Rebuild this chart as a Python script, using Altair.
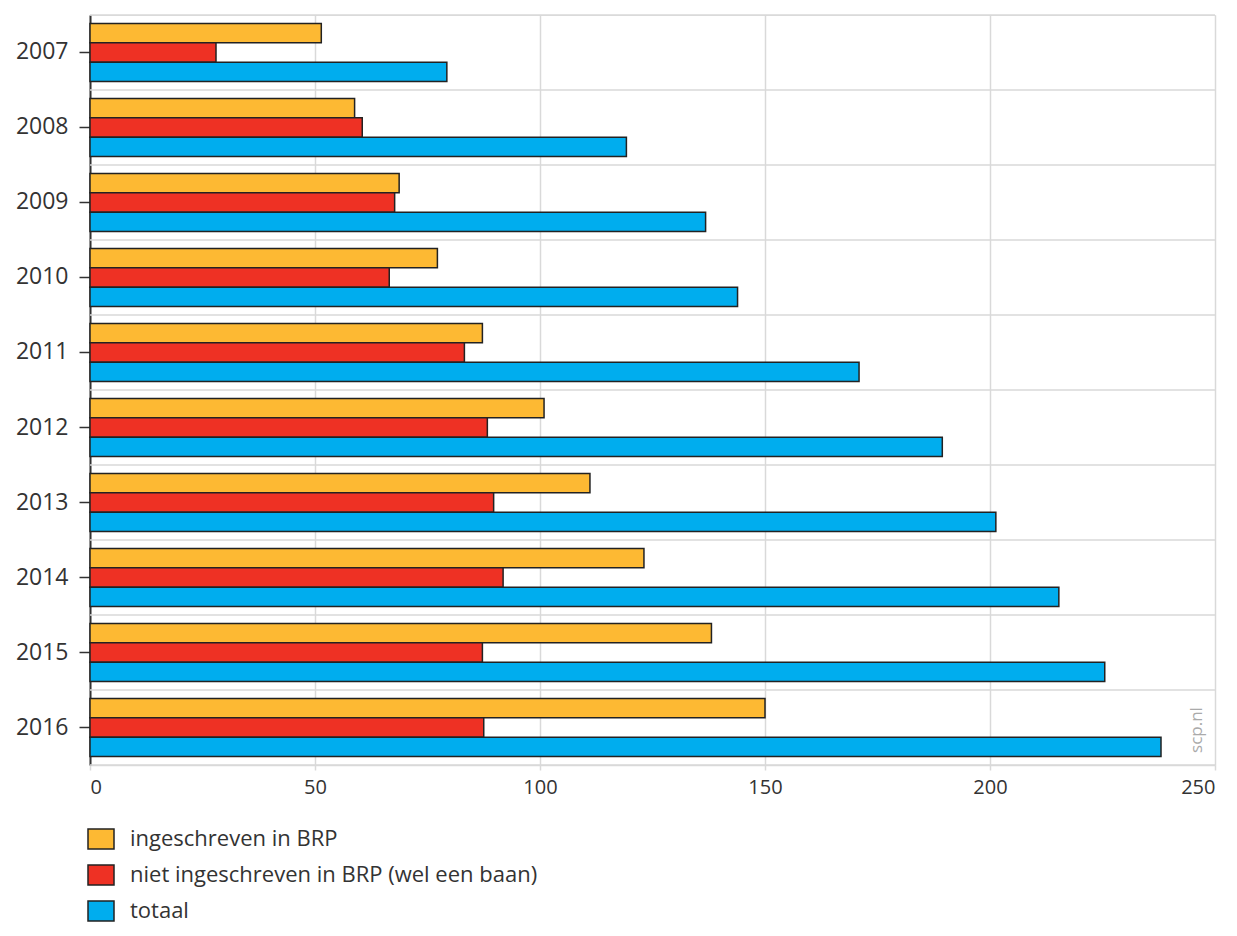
import altair as alt
import pandas as pd

years = ["2007", "2008", "2009", "2010", "2011", "2012", "2013", "2014", "2015", "2016"]
series = ["ingeschreven in BRP", "niet ingeschreven in BRP (wel een baan)", "totaal"]
ingeschreven = [51.4, 58.8, 68.7, 77.2, 87.2, 100.9, 111.1, 123.1, 138.1, 150.0]
niet_ingeschreven = [28.0, 60.5, 67.7, 66.5, 83.2, 88.3, 89.7, 91.8, 87.2, 87.5]
totaal = [79.3, 119.2, 136.8, 143.9, 170.9, 189.4, 201.3, 215.3, 225.5, 238.0]
colors = ["#FDB933", "#EE3124", "#00ADEE"]
x_ticks = [0, 50, 100, 150, 200, 250]

FONT = "Open Sans"

rows = []
for i, y in enumerate(years):
    for s, vals in zip(series, [ingeschreven, niet_ingeschreven, totaal]):
        rows.append({"year": y, "series": s, "value": vals[i]})
df = pd.DataFrame(rows)

grid_df = pd.DataFrame({"g": list(range(len(years) + 1))})

W, H = 1125, 750

rules = alt.Chart(grid_df).mark_rule(color="#d9d9d9", strokeWidth=1.5).encode(
    y=alt.Y("g:Q", scale=alt.Scale(domain=[0, len(years)], nice=False), axis=None)
)

bars = alt.Chart(df).mark_bar(stroke="#222222", strokeWidth=1.5).encode(
    x=alt.X(
        "value:Q",
        scale=alt.Scale(domain=[0, 250], nice=False),
        axis=alt.Axis(
            values=x_ticks, title=None, grid=True, gridColor="#d9d9d9", gridWidth=1.5,
            domainColor="#d9d9d9", domainWidth=1.5, tickColor="#d9d9d9", tickWidth=1.5,
            tickSize=5, labelFontSize=20, labelColor="#333333", labelPadding=7,
            labelFont=FONT,
        ),
    ),
    y=alt.Y(
        "year:N", sort=years,
        scale=alt.Scale(paddingInner=0.2267, paddingOuter=0.1133),
        axis=alt.Axis(
            title=None, grid=False, domainColor="#333333", domainWidth=2,
            tickColor="#333333", tickWidth=1.5, tickSize=11, labelFontSize=23,
            labelColor="#333333", labelPadding=11, labelFont=FONT,
        ),
    ),
    yOffset=alt.YOffset("series:N", sort=series, scale=alt.Scale(paddingInner=0, paddingOuter=0)),
    fill=alt.Fill(
        "series:N", sort=series,
        scale=alt.Scale(domain=series, range=colors),
        legend=alt.Legend(
            title=None, orient="none", legendX=0, legendY=813, direction="vertical",
            symbolType="M-1.3,-1H1.3V1H-1.3Z", symbolSize=400,
            symbolStrokeColor="#222222", symbolStrokeWidth=1.5, symbolOpacity=1,
            labelFontSize=22, labelColor="#333333", labelFont=FONT,
            rowPadding=10, labelOffset=18, labelLimit=600,
        ),
    ),
)

wm = alt.Chart(pd.DataFrame({"t": ["scp.nl"]})).mark_text(
    angle=270, fontSize=17, color="#aaaaaa", align="center", baseline="middle", font=FONT
).encode(x=alt.value(W - 18), y=alt.value(H - 35), text="t:N")

chart = (
    alt.layer(rules, bars, wm)
    .resolve_scale(y="independent")
    .properties(
        width=W, height=H,
        autosize=alt.AutoSizeParams(type="none"),
        padding={"left": 82, "top": 7, "right": 14, "bottom": 163},
    )
    .configure_view(stroke=None)
    .configure(font=FONT)
)

chart.save("out.html", embed_options={"renderer": "svg", "actions": False})
